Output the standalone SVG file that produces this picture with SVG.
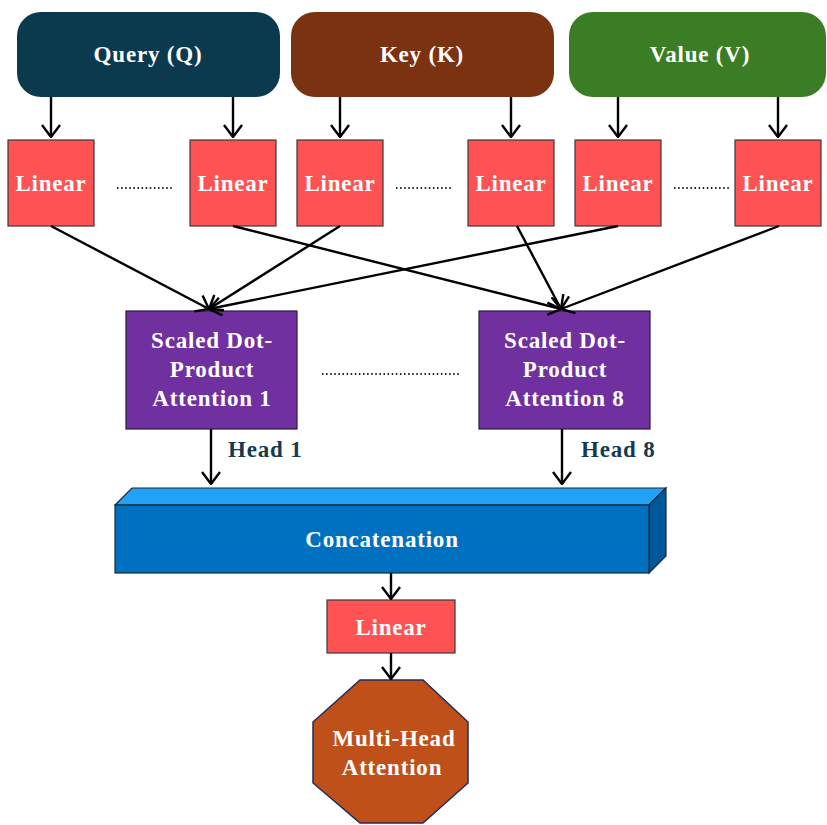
<svg xmlns="http://www.w3.org/2000/svg" width="827" height="825" viewBox="0 0 827 825">
<defs>
<marker id="ah" viewBox="0 0 14 20" refX="13" refY="10" markerWidth="14" markerHeight="20" markerUnits="userSpaceOnUse" orient="auto">
<path d="M1,1 L13,10 L1,19" fill="none" stroke="#000" stroke-width="2.4"/>
</marker>
<style>
.t{font-family:"Liberation Serif","Times New Roman",serif;font-weight:bold;font-size:23px;letter-spacing:0.8px;fill:#fff;text-anchor:middle}
.h{font-family:"Liberation Serif","Times New Roman",serif;font-weight:bold;font-size:23px;letter-spacing:0.8px;fill:#163a4f}
.lin{fill:#ff5252;stroke:#3a3a3a;stroke-width:1.2}
.att{fill:#7030a0;stroke:#2a1a40;stroke-width:1.2}
.c{stroke:#000;stroke-width:2.4;fill:none;marker-end:url(#ah)}
.dot{stroke:#222;stroke-width:2;stroke-dasharray:1.5 2.6;fill:none}
</style>
</defs>
<rect width="827" height="825" fill="#fff"/>

<g id="query"><rect x="17" y="12" width="263" height="85" rx="24" fill="#0b3a4f"/><text class="t" x="148" y="62">Query (Q)</text></g>
<g id="key"><rect x="291" y="12" width="263" height="85" rx="24" fill="#7b3210"/><text class="t" x="422" y="62">Key (K)</text></g>
<g id="value"><rect x="569" y="12" width="257" height="85" rx="24" fill="#3b7d24"/><text class="t" x="700" y="62">Value (V)</text></g>

<g id="linear-q1"><rect class="lin" x="8" y="140" width="86" height="86"/><text class="t" x="51" y="191">Linear</text></g>
<g id="linear-q8"><rect class="lin" x="190" y="140" width="86" height="86"/><text class="t" x="233" y="191">Linear</text></g>
<g id="linear-k1"><rect class="lin" x="297" y="140" width="86" height="86"/><text class="t" x="340" y="191">Linear</text></g>
<g id="linear-k8"><rect class="lin" x="468" y="140" width="86" height="86"/><text class="t" x="511" y="191">Linear</text></g>
<g id="linear-v1"><rect class="lin" x="575" y="140" width="86" height="86"/><text class="t" x="618" y="191">Linear</text></g>
<g id="linear-v8"><rect class="lin" x="735" y="140" width="86" height="86"/><text class="t" x="778" y="191">Linear</text></g>

<g id="ellipses">
<line class="dot" x1="117" y1="188" x2="174" y2="188"/>
<line class="dot" x1="396" y1="188" x2="453" y2="188"/>
<line class="dot" x1="674" y1="188" x2="731" y2="188"/>
<line class="dot" x1="322" y1="374" x2="461" y2="374"/>
</g>

<g id="attention-1"><rect class="att" x="126" y="311" width="171" height="118"/>
<text class="t" x="212" y="348">Scaled Dot-</text><text class="t" x="212" y="377">Product</text><text class="t" x="212" y="406">Attention 1</text></g>
<g id="attention-8"><rect class="att" x="479" y="311" width="171" height="118"/>
<text class="t" x="565" y="348">Scaled Dot-</text><text class="t" x="565" y="377">Product</text><text class="t" x="565" y="406">Attention 8</text></g>

<g id="head-labels"><text class="h" x="228" y="457">Head 1</text><text class="h" x="581" y="457">Head 8</text></g>

<g id="concatenation">
<polygon points="115,505 132,488 666,488 649,505" fill="#22a2f7" stroke="#1a2a3a" stroke-width="1.2"/>
<polygon points="649,505 666,488 666,556 649,573" fill="#00589c" stroke="#1a2a3a" stroke-width="1.2"/>
<rect x="115" y="505" width="534" height="68" fill="#0070c0" stroke="#1a2a3a" stroke-width="1.2"/>
<text class="t" x="382" y="547">Concatenation</text>
</g>

<g id="linear-out"><rect class="lin" x="327" y="600" width="128" height="53"/><text class="t" x="391" y="635">Linear</text></g>

<g id="multi-head-attention">
<polygon points="360,680 423,680 468,722 468,783 423,823 360,823 313,783 313,722" fill="#c0501a" stroke="#1f2d5a" stroke-width="1.5"/>
<text class="t" x="394" y="746">Multi-Head</text><text class="t" x="392" y="775">Attention</text>
</g>

<g id="connectors">
<line class="c" x1="51" y1="97" x2="51" y2="137"/>
<line class="c" x1="233" y1="97" x2="233" y2="137"/>
<line class="c" x1="340" y1="97" x2="340" y2="137"/>
<line class="c" x1="511" y1="97" x2="511" y2="137"/>
<line class="c" x1="618" y1="97" x2="618" y2="137"/>
<line class="c" x1="778" y1="97" x2="778" y2="137"/>
<line class="c" x1="51" y1="226" x2="209" y2="309"/>
<line class="c" x1="340" y1="226" x2="209" y2="309"/>
<line class="c" x1="618" y1="226" x2="209" y2="309"/>
<line class="c" x1="233" y1="226" x2="561" y2="309"/>
<line class="c" x1="517" y1="226" x2="561" y2="309"/>
<line class="c" x1="779" y1="226" x2="561" y2="309"/>
<line class="c" x1="211" y1="429" x2="211" y2="484"/>
<line class="c" x1="562" y1="429" x2="562" y2="484"/>
<line class="c" x1="391" y1="573" x2="391" y2="599"/>
<line class="c" x1="391" y1="653" x2="391" y2="679"/>
</g>
</svg>
